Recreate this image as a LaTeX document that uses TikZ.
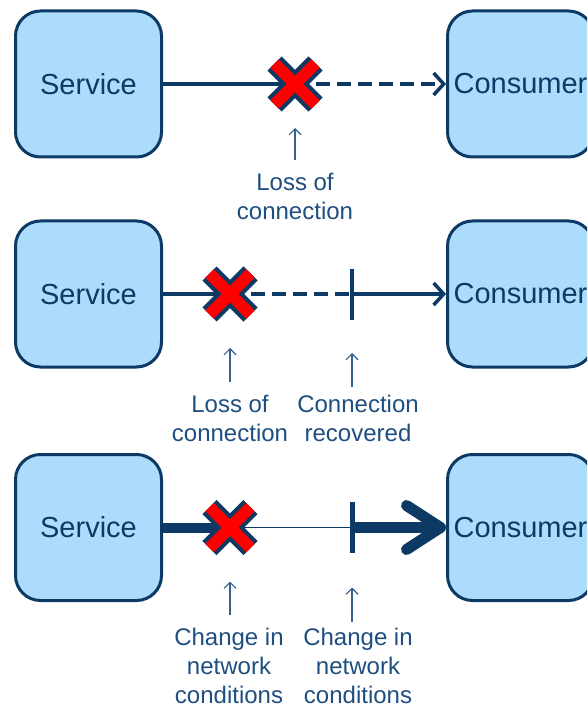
\documentclass[tikz,border=0pt]{standalone}
\usepackage{fontspec}
\setmainfont{Liberation Sans}
\usetikzlibrary{arrows.meta,calc}
\definecolor{navy}{HTML}{0C3A64}
\definecolor{boxfill}{HTML}{ADDBFC}
\definecolor{labtext}{HTML}{1F4E80}
\definecolor{smallarrow}{HTML}{34628F}
\definecolor{xred}{HTML}{FF0000}
\newcommand\redcross[1]{%
  \begin{scope}[shift={(#1)}]
    \draw[navy,line width=20pt] (-20.5,-20.5) -- (20.5,20.5) (-20.5,20.5) -- (20.5,-20.5);
    \draw[xred,line width=12pt] (-20.5,-20.5) -- (20.5,20.5) (-20.5,20.5) -- (20.5,-20.5);
  \end{scope}}
\begin{document}
\begin{tikzpicture}[x=1pt,y=-1pt,
  box/.style={draw=navy,fill=boxfill,line width=3pt,rounded corners=25pt,
    minimum width=146pt,minimum height=146pt,inner sep=0pt,
    text=navy,font=\fontsize{29}{34}\selectfont},
  lab/.style={align=center,anchor=north,inner sep=0pt,text=labtext,
    font=\fontsize{24}{29}\selectfont},
  conn/.style={draw=navy,line width=3.5pt},
  dashconn/.style={conn,dash pattern=on 14pt off 7pt},
  tick/.style={draw=navy,line width=4pt},
  up/.style={draw=smallarrow,line width=1.2pt,-{Straight Barb[length=6pt,width=12pt]}},
  chev/.style={-{Straight Barb[length=10pt,width=22pt]}}
]
\clip (0,0) rectangle (587,708);
\useasboundingbox (0,0) rectangle (587,708);
\fill[white] (0,0) rectangle (587,708);

% Row 1
\node[box] (s1) at (88.5,84) {Service};
\node[box] (c1) at (520.5,84) {Consumer};
\coordinate (x1) at (295,84);
\draw[conn] (s1.east) -- (x1);
\draw[dashconn,chev] (x1) -- (c1.west);
\redcross{x1}
\node[lab] (l1) at (295,173) {Loss of\\connection};
\draw[up] ($(x1|-l1.north)+(0,-13)$) -- ($(x1)+(0,44)$);

% Row 2
\node[box] (s2) at (88.5,294) {Service};
\node[box] (c2) at (520.5,294) {Consumer};
\coordinate (x2) at (230,294);
\coordinate (t2) at (352,294);
\draw[conn] (s2.east) -- (x2);
\draw[dashconn] (x2) -- (t2);
\draw[conn,chev] (t2) -- (c2.west);
\draw[tick] ($(t2)+(0,-25.5)$) -- ($(t2)+(0,25.5)$);
\redcross{x2}
\node[lab] (l2a) at (230,395) {Loss of\\connection};
\node[lab] (l2b) at (358,395) {Connection\\recovered};
\draw[up] ($(x2|-l2a.north)+(0,-13)$) -- ($(x2)+(0,54)$);
\draw[up] ($(t2|-l2b.north)+(0,-8)$) -- ($(t2)+(0,59)$);

% Row 3
\node[box] (s3) at (88.5,527.5) {Service};
\node[box] (c3) at (520.5,527.5) {Consumer};
\coordinate (x3) at (230,527.5);
\coordinate (t3) at (352,527.5);
\draw[navy,line width=10pt] (s3.east) -- (x3);
\draw[navy,line width=1.5pt] (x3) -- (t3);
\draw[navy,line width=11pt,-{Straight Barb[length=34pt,width=44pt,round]}] (t3) -- (c3.west);
\draw[navy,line width=5pt] ($(t3)+(0,-25.5)$) -- ($(t3)+(0,25.5)$);
\redcross{x3}
\node[lab] (l3a) at (229,628) {Change in\\network\\conditions};
\node[lab] (l3b) at (358,628) {Change in\\network\\conditions};
\draw[up] ($(x3|-l3a.north)+(0,-13)$) -- ($(x3)+(0,54)$);
\draw[up] ($(t3|-l3b.north)+(0,-6)$) -- ($(t3)+(0,60)$);
\end{tikzpicture}
\end{document}
